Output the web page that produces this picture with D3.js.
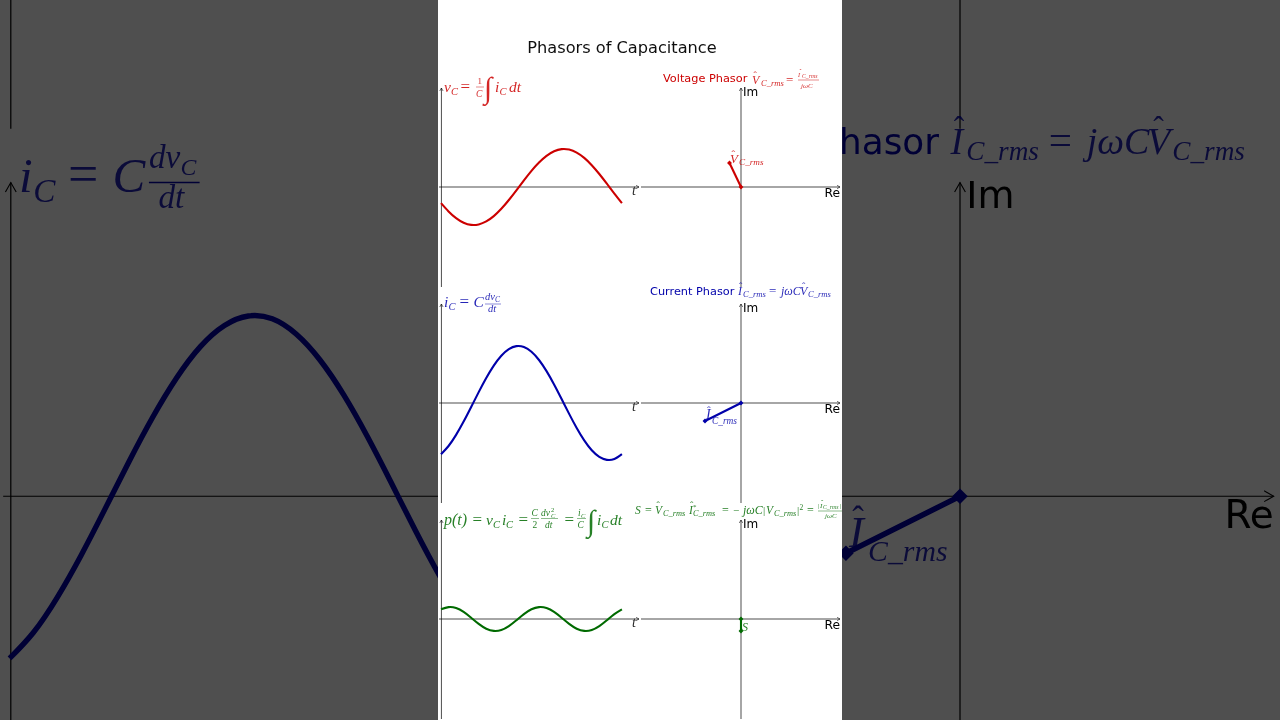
<!DOCTYPE html>
<html>
<head>
    <title>Phasors of Capacitance</title>
    <script src="https://cdn.jsdelivr.net/npm/d3@7"></script>
    <style>
        html, body { margin: 0; padding: 0; background: #4f4f4f; overflow: hidden; }
        svg { display: block; }
    </style>
</head>
<body>
    <div id="graph"></div>

    <script>
        // values
        var timeDeg = [0, 15, 30, 45, 60, 75, 90, 105, 120, 135, 150, 165, 180, 195, 210, 225, 240, 255, 270, 285, 300, 315, 330, 345, 360];
        var voltage = [-0.161, -0.244, -0.311, -0.357, -0.379, -0.374, -0.344, -0.291, -0.218, -0.13, -0.033, 0.066, 0.161, 0.244, 0.311, 0.357, 0.379, 0.374, 0.344, 0.291, 0.218, 0.13, 0.033, -0.066, -0.161];
        var current = [-0.512, -0.43, -0.319, -0.186, -0.04, 0.109, 0.25, 0.374, 0.473, 0.539, 0.569, 0.56, 0.512, 0.43, 0.319, 0.186, 0.04, -0.109, -0.25, -0.374, -0.473, -0.539, -0.569, -0.56, -0.512];
        var power = [0.097, 0.119, 0.11, 0.071, 0.013, -0.049, -0.097, -0.119, -0.11, -0.071, -0.013, 0.049, 0.097, 0.119, 0.11, 0.071, 0.013, -0.049, -0.097, -0.119, -0.11, -0.071, -0.013, 0.049, 0.097];

        var phasorRe = [-0.115, -0.36, 0];
        var phasorIm = [0.24, -0.18, -0.12];

        var colors = ["#cc0000", "#0000aa", "#006a00"];
        var chartTitle = "Phasors of Capacitance";

        var W = 1280, H = 720;
        var panelLeft = 438, panelRight = 842;
        var zoom = 1280 / 404;

        var rowTops = [87, 303, 519];
        var rowHeight = 200;

        var xTime = d3.scaleLinear().domain([-4, 394]).range([439, 639]);
        var xRe = d3.scaleLinear().domain([-1, 1]).range([641, 841]);

        var svg = d3.select("#graph").append("svg").attr("width", W).attr("height", H);
        var defs = svg.append("defs");

        defs.append("clipPath").attr("id", "panelClip").append("rect")
            .attr("x", panelLeft).attr("y", 0).attr("width", panelRight - panelLeft).attr("height", H);
        defs.append("filter").attr("id", "soft").append("feGaussianBlur").attr("stdDeviation", 0.45);
        defs.append("filter").attr("id", "softFront")
            .attr("filterUnits", "userSpaceOnUse")
            .attr("x", 0).attr("y", 0).attr("width", W).attr("height", H)
            .append("feGaussianBlur").attr("stdDeviation", 0.28);

        function addArrow(id, w) {
            defs.append("marker")
                .attr("id", id)
                .attr("markerUnits", "userSpaceOnUse")
                .attr("viewBox", "-4 -3 5 6")
                .attr("markerWidth", 5).attr("markerHeight", 6)
                .attr("refX", 0).attr("refY", 0)
                .attr("orient", "auto")
                .append("path")
                .attr("d", "M-3,-1.7L0,0L-3,1.7")
                .attr("fill", "none")
                .attr("stroke", "#000")
                .attr("stroke-width", w);
        }
        addArrow("arrowFront", 0.55);
        addArrow("arrowBack", 0.35);

        // one piece of an equation: x, baseline, string, size, italic
        function math(g, color, pieces) {
            g.selectAll(null).data(pieces).enter().append("text")
                .attr("x", function(p) { return p[0]; })
                .attr("y", function(p) { return p[1]; })
                .attr("font-family", "'Liberation Serif', serif")
                .attr("font-size", function(p) { return p[3]; })
                .attr("font-style", function(p) { return p[4] === 0 ? "normal" : "italic"; })
                .attr("fill", color)
                .attr("fill-opacity", 0.85)
                .text(function(p) { return p[2]; });
        }

        function fracBar(g, color, x1, x2, y) {
            g.append("line").attr("x1", x1).attr("x2", x2).attr("y1", y).attr("y2", y)
                .attr("stroke", color).attr("stroke-width", 0.45);
        }

        function sans(g, x, y, str, size, color) {
            g.append("text").attr("x", x).attr("y", y)
                .attr("font-family", "'DejaVu Sans', sans-serif")
                .attr("font-size", size)
                .attr("fill", color)
                .text(str);
        }

        function drawFrame(g, axisWidth, arrowId, curveWidth) {
            g.append("text")
                .attr("x", 622).attr("y", 52.5)
                .attr("text-anchor", "middle")
                .attr("font-family", "'DejaVu Sans', sans-serif")
                .attr("font-size", 16.2)
                .attr("fill", "#111")
                .text(chartTitle);

            var series = [voltage, current, power];

            series.forEach(function(s, i) {
                var yVal = d3.scaleLinear().domain([-1, 1]).range([rowTops[i] + rowHeight, rowTops[i]]);
                var yAxisScale = yVal.copy().range([rowTops[i] + rowHeight, rowTops[i] + 1]);
                var row = g.append("g");

                var axes = [
                    row.append("g").attr("transform", "translate(0," + yVal(0) + ")").call(d3.axisBottom(xTime).tickValues([]).tickSizeOuter(0).offset(0)),
                    row.append("g").attr("transform", "translate(" + (xTime(0) + 0.4) + ",0)").call(d3.axisLeft(yAxisScale).tickValues([]).tickSizeOuter(0).offset(0)),
                    row.append("g").attr("transform", "translate(0," + yVal(0) + ")").call(d3.axisBottom(xRe.copy().range([641, 840])).tickValues([]).tickSizeOuter(0).offset(0)),
                    row.append("g").attr("transform", "translate(" + xRe(0) + ",0)").call(d3.axisLeft(yAxisScale).tickValues([]).tickSizeOuter(0).offset(0))
                ];
                axes.forEach(function(a) {
                    a.select(".domain")
                        .attr("stroke", "#000")
                        .attr("stroke-width", axisWidth)
                        .attr("fill", "none")
                        .attr("marker-end", "url(#" + arrowId + ")");
                });

                var line = d3.line()
                    .x(function(d, k) { return xTime(timeDeg[k]); })
                    .y(function(d) { return yVal(d); })
                    .curve(d3.curveNatural);

                row.append("path")
                    .datum(s)
                    .attr("d", line)
                    .attr("fill", "none")
                    .attr("stroke", colors[i])
                    .attr("stroke-width", curveWidth);

                row.append("line")
                    .attr("x1", xRe(0)).attr("y1", yVal(0))
                    .attr("x2", xRe(phasorRe[i])).attr("y2", yVal(phasorIm[i]))
                    .attr("stroke", colors[i])
                    .attr("stroke-width", curveWidth);

                row.selectAll("path.tip")
                    .data([[0, 0], [phasorRe[i], phasorIm[i]]])
                    .enter().append("path")
                    .attr("class", "tip")
                    .attr("d", d3.symbol(d3.symbolSquare, 12))
                    .attr("fill", colors[i])
                    .attr("transform", function(d) {
                        return "translate(" + xRe(d[0]) + "," + yVal(d[1]) + ") rotate(45)";
                    });

                math(row, "#000", [[632, yVal(0) + 8, "t", 14, 1]]);
                sans(row, 743, rowTops[i] + 9, "Im", 12, "#000");
                sans(row, 824.5, yVal(0) + 10, "Re", 12.3, "#000");
            });

            var red = colors[0], blue = colors[1], green = colors[2];

            // v_C equation
            math(g, red, [
                [444, 92, "v", 15.5], [451, 95, "C", 10.5],
                [460.5, 92, "=", 17, 0],
                [477.5, 84, "1", 9, 0], [476, 97, "C", 9.5],
                [484, 98, "\u222B", 30, 0],
                [495, 92, "i", 15.5], [499.5, 95, "C", 10.5],
                [509, 92, "dt", 15.5]
            ]);
            fracBar(g, red, 476, 484, 87);

            // i_C equation
            math(g, blue, [
                [444, 307, "i", 15.5], [448.5, 310, "C", 10.5],
                [459.5, 307, "=", 17, 0],
                [473.5, 307, "C", 15.5],
                [485, 299.5, "dv", 10.5], [495, 301.5, "C", 7.5],
                [488, 312, "dt", 10.5]
            ]);
            fracBar(g, blue, 485, 501, 304);

            // power equation
            math(g, green, [
                [444, 525, "p(t)", 16],
                [472.5, 525, "=", 17, 0],
                [486, 525, "v", 15.5], [493, 528, "C", 10.5],
                [502, 525, "i", 15.5], [506, 528, "C", 10.5],
                [518.5, 525, "=", 17, 0],
                [531.5, 516, "C", 9.5], [532.5, 528, "2", 9.5, 0],
                [541, 516, "dv", 9.5], [551, 518, "C", 6.5], [551, 512, "2", 6.5, 0],
                [545, 528, "dt", 9.5],
                [564.5, 525, "=", 17, 0],
                [578, 516, "i", 9.5], [581, 518, "C", 6.5], [577.5, 528, "C", 9.5],
                [587, 531, "\u222B", 30, 0],
                [597, 525, "i", 15.5], [601.5, 528, "C", 10.5],
                [610, 525, "dt", 15.5]
            ]);
            fracBar(g, green, 531, 539, 518.5);
            fracBar(g, green, 541, 558, 518.5);
            fracBar(g, green, 577, 586, 518.5);

            // voltage phasor title
            sans(g, 663, 82, "Voltage Phasor", 11.3, red);
            math(g, red, [
                [752, 84, "V", 12], [753.5, 79, "\u02C6", 10, 0],
                [761, 86, "C_rms", 8.6],
                [786, 84, "=", 13, 0],
                [798, 77, "I", 6], [799.5, 73, "\u02C6", 6, 0], [802, 78, "C_rms", 5.8],
                [801, 88, "j\u03C9C", 7]
            ]);
            fracBar(g, red, 798, 819, 80);

            math(g, red, [
                [730, 163, "V", 13], [731.5, 158, "\u02C6", 11, 0],
                [739, 165, "C_rms", 9.2]
            ]);

            // current phasor title
            sans(g, 650, 295, "Current Phasor", 11.3, blue);
            math(g, blue, [
                [738, 295, "I", 12], [739, 290, "\u02C6", 10, 0],
                [743, 297, "C_rms", 8.6],
                [769, 295, "=", 13, 0],
                [781, 295, "j\u03C9C", 12],
                [800, 295, "V", 12], [802, 290, "\u02C6", 10, 0],
                [808, 297, "C_rms", 8.6]
            ]);

            math(g, blue, [
                [706, 419, "I", 14], [707, 414, "\u02C6", 11, 0],
                [712, 423.5, "C_rms", 9.4]
            ]);

            // complex power equation
            math(g, green, [
                [635, 514, "S", 11.5],
                [645, 514, "=", 12, 0],
                [655, 514, "V", 11.5], [656.5, 509, "\u02C6", 10, 0],
                [663, 516, "C_rms", 8.4],
                [689, 514, "I", 11.5], [690, 509, "\u02C6", 10, 0],
                [693, 509, "*", 7, 0], [693, 516, "C_rms", 8.4],
                [722, 514, "=", 12, 0],
                [733, 514, "\u2212", 11, 0],
                [743, 514, "j\u03C9C", 12],
                [763, 514, "|", 11, 0],
                [766, 514, "V", 11.5],
                [774, 516, "C_rms", 8.4],
                [797, 514, "|", 11, 0],
                [799.5, 510, "2", 7.5, 0],
                [807, 514, "=", 12, 0],
                [818, 508, "|", 7, 0], [820, 508, "I", 7], [821, 504, "\u02C6", 7, 0], [823, 509, "C_rms", 5.8], [840, 508, "|", 7, 0],
                [825, 518, "j\u03C9C", 7]
            ]);
            fracBar(g, green, 818, 842, 511);

            math(g, green, [[742, 631, "S", 12]]);
        }

        // blurred, darkened, zoomed copy behind the panel
        var back = svg.append("g").attr("filter", "url(#soft)");
        var backInner = back.append("g")
            .attr("transform", "translate(640,360) scale(" + zoom + ") translate(-640,-360)");
        backInner.append("rect").attr("x", panelLeft).attr("y", 0)
            .attr("width", panelRight - panelLeft).attr("height", H).attr("fill", "#fff");
        drawFrame(backInner, 0.38, "arrowBack", 1.7);

        // the copy's texts that land wholly behind the panel or off the page are never seen
        backInner.selectAll("text").each(function() {
            var box = this.getBoundingClientRect();
            var hidden = box.left >= panelLeft && box.right <= panelRight;
            var gone = box.right <= 0 || box.left >= W || box.bottom <= 0 || box.top >= H;
            if (hidden || gone) d3.select(this).remove();
        });

        svg.append("rect").attr("width", W).attr("height", H).attr("fill", "#000").attr("opacity", 0.69);

        // sharp panel on top
        var front = svg.append("g").attr("clip-path", "url(#panelClip)");
        front.append("rect").attr("x", panelLeft).attr("y", 0)
            .attr("width", panelRight - panelLeft).attr("height", H).attr("fill", "#fff");
        var frontInner = front.append("g").attr("filter", "url(#softFront)");
        drawFrame(frontInner, 0.7, "arrowFront", 2.1);
    </script>
</body>
</html>
